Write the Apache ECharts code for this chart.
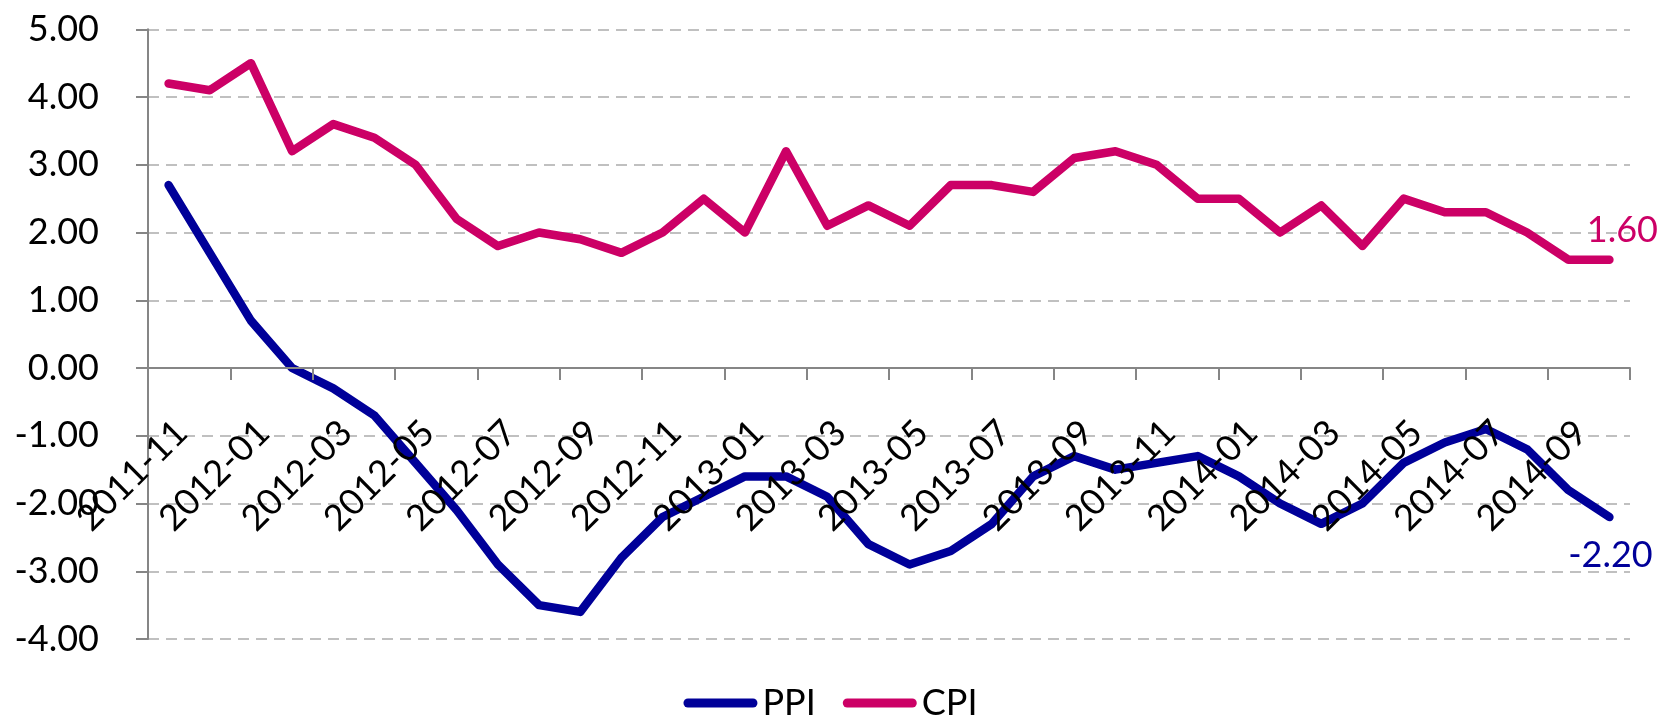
<!DOCTYPE html>
<html>
<head>
<meta charset="utf-8">
<script src="https://cdn.jsdelivr.net/npm/echarts@6/dist/echarts.min.js"></script>
<style>
html,body{margin:0;padding:0;background:#fff;}
#chart{width:1661px;height:716px;}
</style>
</head>
<body>
<div id="chart"></div>
<script>
const categories = ['2011-11','2011-12','2012-01','2012-02','2012-03','2012-04','2012-05','2012-06','2012-07','2012-08','2012-09','2012-10','2012-11','2012-12','2013-01','2013-02','2013-03','2013-04','2013-05','2013-06','2013-07','2013-08','2013-09','2013-10','2013-11','2013-12','2014-01','2014-02','2014-03','2014-04','2014-05','2014-06','2014-07','2014-08','2014-09','2014-10'];
const ppi = [2.7, 1.7, 0.7, 0.0, -0.3, -0.7, -1.4, -2.1, -2.9, -3.5, -3.6, -2.8, -2.2, -1.9, -1.6, -1.6, -1.9, -2.6, -2.9, -2.7, -2.3, -1.6, -1.3, -1.5, -1.4, -1.3, -1.6, -2.0, -2.3, -2.0, -1.4, -1.1, -0.9, -1.2, -1.8, -2.2];
const cpi = [4.2, 4.1, 4.5, 3.2, 3.6, 3.4, 3.0, 2.2, 1.8, 2.0, 1.9, 1.7, 2.0, 2.5, 2.0, 3.2, 2.1, 2.4, 2.1, 2.7, 2.7, 2.6, 3.1, 3.2, 3.0, 2.5, 2.5, 2.0, 2.4, 1.8, 2.5, 2.3, 2.3, 2.0, 1.6, 1.6];
const seriesNames = ['PPI', 'CPI'];
const yMin = -4, yMax = 5, yStep = 1;

const FONT = 'Lato, "Open Sans", sans-serif';
const AXIS_COLOR = '#868686';
const PPI_COLOR = '#000099';
const CPI_COLOR = '#CC0066';

const GRID_TOP = 29.3, GRID_BOTTOM = 77, H = 716;
const plotH = H - GRID_TOP - GRID_BOTTOM;
const zeroFromBottom = plotH * (0 - yMin) / (yMax - yMin);

const chart = echarts.init(document.getElementById('chart'), null, {renderer: 'canvas'});
const option = {
  animation: false,
  backgroundColor: '#ffffff',
  grid: {left: 148, right: 31, top: GRID_TOP, bottom: GRID_BOTTOM, containLabel: false, outerBoundsMode: 'none'},
  legend: {
    data: seriesNames,
    left: 'center',
    top: 680,
    itemWidth: 74,
    itemHeight: 9,
    itemGap: 27,
    icon: 'path://M4.5,0 H69.5 A4.5,4.5 0 0 1 69.5,9 H4.5 A4.5,4.5 0 0 1 4.5,0 Z',
    textStyle: {fontFamily: FONT, fontSize: 36, color: '#000'}
  },
  xAxis: {
    type: 'category',
    data: categories,
    boundaryGap: true,
    position: 'bottom',
    offset: -zeroFromBottom,
    z: 5,
    axisLine: {onZero: false, lineStyle: {color: AXIS_COLOR, width: 2}},
    axisTick: {show: true, interval: 1, length: 12, lineStyle: {color: AXIS_COLOR, width: 2}},
    axisLabel: {
      interval: 1, rotate: 45, margin: 46,
      align: 'right', verticalAlign: 'top',
      fontFamily: FONT, fontSize: 36, color: '#000'
    },
    splitLine: {show: false}
  },
  yAxis: {
    type: 'value',
    min: yMin, max: yMax, interval: yStep,
    axisLine: {show: true, lineStyle: {color: AXIS_COLOR, width: 2}},
    axisTick: {show: true, length: 12, lineStyle: {color: AXIS_COLOR, width: 2}},
    axisLabel: {
      formatter: v => v.toFixed(2),
      margin: 49,
      fontFamily: FONT, fontSize: 36, color: '#000'
    },
    splitLine: {show: true, lineStyle: {type: [11, 7], color: '#C0C0C0', width: 2}}
  },
  series: [
    {
      name: 'PPI', type: 'line', data: ppi,
      color: PPI_COLOR,
      symbol: 'none', showSymbol: false,
      lineStyle: {width: 8.5, color: PPI_COLOR, cap: 'round', join: 'round'},
      endLabel: {
        show: true, formatter: p => Number(p.value).toFixed(2),
        align: 'center', verticalAlign: 'middle', distance: 0, offset: [1, 38],
        color: PPI_COLOR, fontFamily: FONT, fontSize: 36
      }
    },
    {
      name: 'CPI', type: 'line', data: cpi,
      color: CPI_COLOR,
      symbol: 'none', showSymbol: false,
      lineStyle: {width: 8.5, color: CPI_COLOR, cap: 'round', join: 'round'},
      endLabel: {
        show: true, formatter: p => Number(p.value).toFixed(2),
        align: 'center', verticalAlign: 'middle', distance: 0, offset: [13, -29],
        color: CPI_COLOR, fontFamily: FONT, fontSize: 36
      }
    }
  ]
};
chart.setOption(option);
</script>
</body>
</html>
